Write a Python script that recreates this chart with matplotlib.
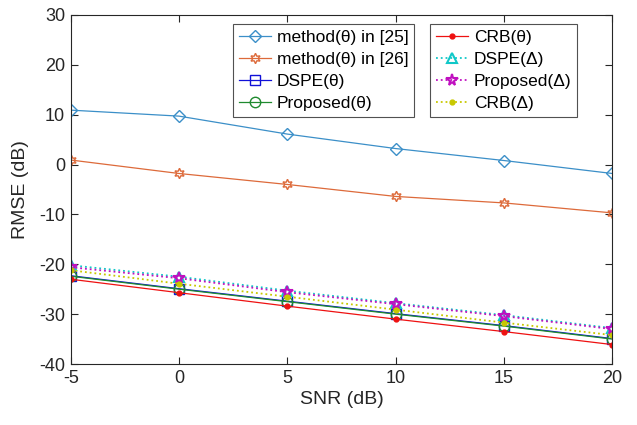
import numpy as np
import matplotlib
matplotlib.use("Agg")
import matplotlib.pyplot as plt

plt.rcParams['font.family'] = ['Liberation Sans', 'DejaVu Sans']
plt.rcParams['axes.unicode_minus'] = False

snr = [-5, 0, 5, 10, 15, 20]

# RMSE values (dB)
method25 = [10.9, 9.7, 6.1, 3.2, 0.8, -1.8]
method26 = [0.9, -1.8, -4.0, -6.4, -7.7, -9.7]
dspe_theta = [-22.3, -24.9, -27.4, -29.9, -32.3, -34.9]
prop_theta = [-22.4, -25.0, -27.5, -30.0, -32.4, -35.0]
crb_theta = [-23.0, -25.7, -28.4, -31.0, -33.5, -36.1]
dspe_delta = [-20.2, -22.5, -25.3, -27.8, -30.2, -32.8]
prop_delta = [-20.6, -22.8, -25.6, -28.0, -30.4, -33.0]
crb_delta = [-21.2, -23.9, -26.5, -29.1, -31.7, -34.2]

fig = plt.figure(figsize=(6.37, 4.25), dpi=100)
ax = fig.add_axes([0.111, 0.1435, 0.850, 0.8215])

lw = 0.9
h1 = ax.plot(snr, method25, color='#3b8fc8', lw=lw, marker='D', ms=6.5, mfc='none',
             label='method(θ) in [25]')[0]
h2 = ax.plot(snr, method26, color='#dd6a3a', lw=lw, marker=(6, 1, 0), ms=7.5, mfc='none',
             label='method(θ) in [26]')[0]
h3 = ax.plot(snr, dspe_theta, color='#1010d8', lw=lw, marker='s', ms=6.5, mfc='none',
             label='DSPE(θ)')[0]
h4 = ax.plot(snr, prop_theta, color='#1f8a2f', lw=lw, marker='o', ms=7.5, mfc='none',
             label='Proposed(θ)')[0]
h5 = ax.plot(snr, crb_theta, color='#ee1111', lw=lw, marker='.', ms=7,
             label='CRB(θ)')[0]
h6 = ax.plot(snr, dspe_delta, color='#10c8c8', lw=1.3, ls=':', marker='^', ms=7,
             mfc='none', mew=1.5, label='DSPE(Δ)')[0]
h7 = ax.plot(snr, prop_delta, color='#c010c0', lw=1.3, ls=':', marker='*', ms=8.5,
             mfc='none', mew=1.5, label='Proposed(Δ)')[0]
h8 = ax.plot(snr, crb_delta, color='#c8c800', lw=1.3, ls=':', marker='.', ms=7,
             label='CRB(Δ)')[0]

ax.set_xlim(-5, 20)
ax.set_ylim(-40, 30)
ax.set_xticks([-5, 0, 5, 10, 15, 20])
ax.set_yticks(np.arange(-40, 31, 10))
ax.tick_params(direction='in', top=True, right=True, labelsize=13, length=5,
               width=0.8, color='#262626', labelcolor='#262626', pad=4)
for s in ax.spines.values():
    s.set_linewidth(0.8)
    s.set_color('#262626')

ax.set_xlabel('SNR (dB)', fontsize=14, color='#262626', labelpad=3)
ax.set_ylabel('RMSE (dB)', fontsize=14, color='#262626', labelpad=7)

common = dict(loc='upper left', fontsize=12.5, frameon=True, fancybox=False,
              edgecolor='#262626', handlelength=1.85, handletextpad=0.3,
              borderpad=0.35, labelspacing=0.4, borderaxespad=0)
leg1 = ax.legend(handles=[h1, h2, h3, h4], bbox_to_anchor=(0.300, 0.975), **common)
leg1.get_frame().set_linewidth(0.8)
ax.add_artist(leg1)
leg2 = ax.legend(handles=[h5, h6, h7, h8], bbox_to_anchor=(0.664, 0.975), **common)
leg2.get_frame().set_linewidth(0.8)

fig.savefig('out.png', dpi=100)
